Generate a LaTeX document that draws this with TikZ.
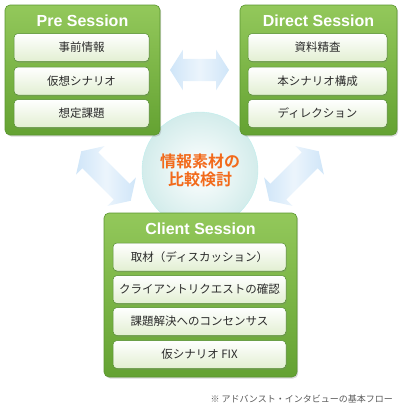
\documentclass[tikz,border=0pt]{standalone}
\usepackage{fontspec}
\setmainfont{Liberation Sans}
\newfontfamily\jp{Noto Sans CJK JP}
\newfontfamily\jpbold{Noto Sans CJK JP Bold}
\usepackage{tikz}
\usetikzlibrary{shapes.arrows,shadows,positioning}
\definecolor{panelTop}{HTML}{93C85B}
\definecolor{panelBot}{HTML}{64A232}
\definecolor{panelEdge}{HTML}{5A9530}
\definecolor{itemEdge}{HTML}{4F8A2B}
\definecolor{itemBot}{HTML}{E2EFD2}
\definecolor{itemText}{HTML}{2B2B2B}
\definecolor{arrowBlue}{HTML}{CFE5F8}
\definecolor{sphereEdge}{HTML}{D3ECEB}
\definecolor{talkOrange}{HTML}{F26A1B}

\begin{document}
\begin{tikzpicture}[x=1pt, y=-1pt,
  panel/.style={draw=panelEdge, line width=0.6pt, rounded corners=5pt, top color=panelTop, bottom color=panelBot, inner sep=0pt, drop shadow={shadow xshift=1.2pt, shadow yshift=-1.5pt, opacity=0.3}},
  paneltitle/.style={text=white, font=\bfseries\fontsize{16}{18}\selectfont, inner sep=0pt},
  item/.style={draw=itemEdge, line width=0.5pt, rounded corners=4pt, top color=white, bottom color=itemBot, minimum height=28pt, inner sep=0pt, text=itemText, font=\jp\fontsize{11.5}{13}\selectfont, drop shadow={shadow xshift=0.6pt, shadow yshift=-1pt, opacity=0.35}},
  flowarrow/.style={double arrow, double arrow head extend=9pt, double arrow tip angle=115, minimum width=40pt, minimum height=#1, inner xsep=0pt, inner ysep=11pt, left color=arrowBlue, right color=arrowBlue, middle color=arrowBlue!40!white}]
\useasboundingbox (0,0) rectangle (400,410);
% sphere in the middle
\node[circle, minimum size=116pt, inner sep=0pt, draw=sphereEdge!90!cyan, inner color=white, outer color=sphereEdge, align=center, text=talkOrange, font=\jpbold\fontsize{16}{18}\selectfont] (sphere) at (200,170) {情報素材の\\比較検討};
% arrows between the sessions
\node[flowarrow=59pt] (arrowtop) at (199.5,70) {};
\node[flowarrow=70pt, rotate=-45] (arrowleft) at (106,176) {};
\node[flowarrow=70pt, rotate=45] (arrowright) at (294,176) {};
% session panels
\node[panel, minimum width=155pt, minimum height=130pt] (presess) at (82.5,70) {};
\node[panel, minimum width=157pt, minimum height=130pt] (directsess) at (318.5,70) {};
\node[panel, minimum width=193pt, minimum height=164pt] (clientsess) at (200.5,295) {};
\node[paneltitle] (pretitle) at (82.5,21) {Pre Session};
\node[paneltitle] (directtitle) at (318.5,21) {Direct Session};
\node[paneltitle] (clienttitle) at (200.5,229) {Client Session};
% items
\foreach \y/\t [count=\i] in {47.5/事前情報, 81/仮想シナリオ, 113.5/想定課題}
  \node[item, minimum width=135pt] (pre\i) at (81.5,\y) {\t};
\foreach \y/\t [count=\i] in {47.5/資料精査, 81/本シナリオ構成, 113.5/ディレクション}
  \node[item, minimum width=139pt] (direct\i) at (317.5,\y) {\t};
\foreach \y/\t [count=\i] in {257/取材（ディスカッション）, 289.5/クライアントリクエストの確認, 321.5/課題解決へのコンセンサス, 354.5/仮シナリオ FIX}
  \node[item, minimum width=173pt] (client\i) at (199.5,\y) {\t};
% footnote
\node[anchor=east, inner sep=0pt, text=black!65, font=\jp\fontsize{9}{11}\selectfont] (footnote) at (393,399) {※ アドバンスト・インタビューの基本フロー};
\end{tikzpicture}
\end{document}
